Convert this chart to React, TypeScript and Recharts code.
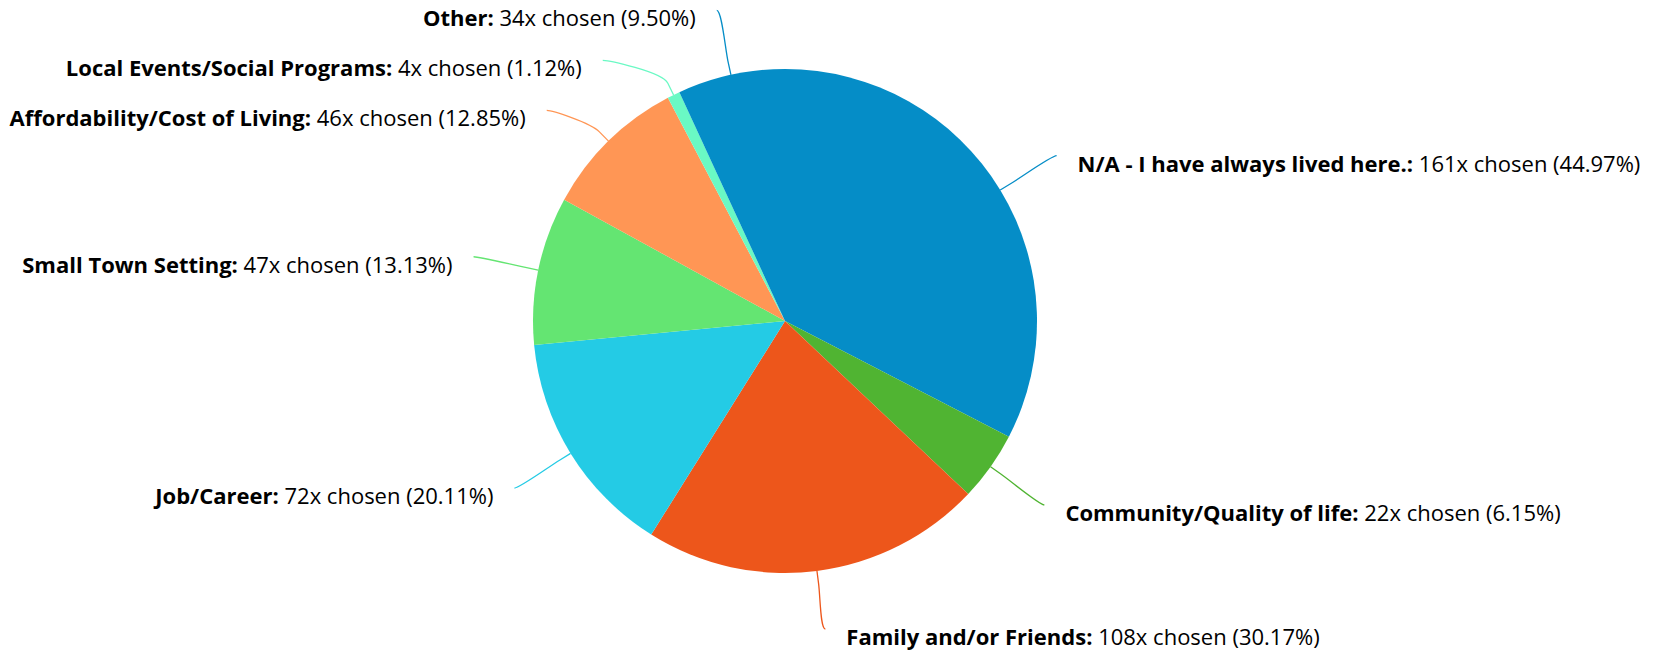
import { PieChart, Pie, Cell } from 'recharts';

const W = 1661;
const H = 651;

const reasons = [
  'N/A - I have always lived here.',
  'Community/Quality of life',
  'Family and/or Friends',
  'Job/Career',
  'Small Town Setting',
  'Affordability/Cost of Living',
  'Local Events/Social Programs',
  'Other',
];
const timesChosen = [161, 22, 108, 72, 47, 46, 4, 34];
const percentChosen = ['44.97', '6.15', '30.17', '20.11', '13.13', '12.85', '1.12', '9.50'];
const colors = ['#058DC7', '#50B432', '#ED561B', '#24CBE5', '#64E572', '#FF9655', '#6AF9C4', '#058DC7'];

const data = reasons.map((name, i) => ({ name, value: timesChosen[i] }));

const CX = 785;
const CY = 321;
const R = 252;
const LABEL_R = 318; // where connectors end
const MIN_GAP = 50;
const RAD = Math.PI / 180;

// highcharts-ish label placement: natural spot on a bigger circle, pushed apart per side
function layoutLabels() {
  const total = timesChosen.reduce((a, b) => a + b, 0);
  let start = 90;
  const items = timesChosen.map((v, i) => {
    const sweep = (v / total) * 360;
    const mid = start - sweep / 2;
    start -= sweep;
    return { i, left: Math.cos(mid * RAD) < 0, y: CY - LABEL_R * Math.sin(mid * RAD), x: 0 };
  });
  for (const side of [true, false]) {
    const group = items.filter((d) => d.left === side).sort((a, b) => a.y - b.y);
    for (let k = 1; k < group.length; k++) {
      if (group[k].y - group[k - 1].y < MIN_GAP) group[k].y = group[k - 1].y + MIN_GAP;
    }
    group.forEach((d) => {
      const dy = Math.min(Math.abs(d.y - CY), LABEL_R);
      d.x = CX + (side ? -1 : 1) * Math.sqrt(LABEL_R * LABEL_R - dy * dy);
      d.y = Math.max(8, Math.min(H - 22, d.y));
    });
  }
  const out: { x: number; y: number; left: boolean }[] = [];
  items.forEach((d) => (out[d.i] = d));
  return out;
}

const labelSpots = layoutLabels();

const renderLabel = (props: any) => {
  const { cx, cy, midAngle, outerRadius, index } = props;
  const spot = labelSpots[index];
  const color = colors[index];
  const cos = Math.cos(-midAngle * RAD);
  const sin = Math.sin(-midAngle * RAD);
  const tx = cx + outerRadius * cos;
  const ty = cy + outerRadius * sin;
  const off = 13;
  const bx = cx + (outerRadius + off) * cos;
  const by = cy + (outerRadius + off) * sin;
  const lx = spot.x;
  const ly = spot.y;
  const d = `M ${lx} ${ly} C ${lx + (spot.left ? 5 : -5)} ${ly} ${2 * bx - tx} ${2 * by - ty} ${bx} ${by} L ${tx} ${ty}`;
  return (
    <g key={`lbl-${index}`}>
      <path d={d} fill="none" stroke={color} strokeWidth={1.3} />
      <text
        x={spot.left ? lx - 21 : lx + 21}
        y={ly + 16}
        textAnchor={spot.left ? 'end' : 'start'}
        fill="#000"
        fontSize={22}
        fontFamily="'Open Sans', sans-serif"
      >
        <tspan fontWeight="bold">{reasons[index]}:</tspan>
        <tspan>{` ${timesChosen[index]}x chosen (${percentChosen[index]}%)`}</tspan>
      </text>
    </g>
  );
};

export default function App() {
  return (
    <div style={{ position: 'absolute', left: 0, top: 0, width: W, height: H, background: '#fff' }}>
      <PieChart width={W} height={H} margin={{ top: 0, right: 0, bottom: 0, left: 0 }}>
        <Pie
          data={data}
          dataKey="value"
          nameKey="name"
          cx={CX}
          cy={CY}
          outerRadius={R}
          startAngle={90}
          endAngle={-270}
          stroke="none"
          labelLine={false}
          label={renderLabel}
          isAnimationActive={false}
        >
          {data.map((entry, i) => (
            <Cell key={entry.name} fill={colors[i]} />
          ))}
        </Pie>
      </PieChart>
    </div>
  );
}
